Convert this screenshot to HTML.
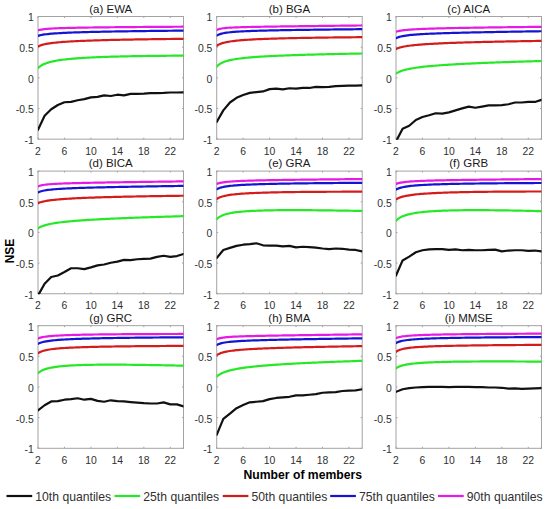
<!DOCTYPE html><html><head><meta charset="utf-8"><style>html,body{margin:0;padding:0;background:#fff;overflow:hidden;}svg{display:block;}text{font-family:"Liberation Sans", sans-serif;} .tk{} .tt{}</style></head><body>
<svg width="550" height="509" viewBox="0 0 550 509">
<rect width="550" height="509" fill="#fff"/>
<defs>
<clipPath id="cp0"><rect x="38.00" y="16.20" width="145.50" height="123.45"/></clipPath>
<clipPath id="cp1"><rect x="216.70" y="16.20" width="145.50" height="123.45"/></clipPath>
<clipPath id="cp2"><rect x="396.00" y="16.20" width="145.50" height="123.45"/></clipPath>
<clipPath id="cp3"><rect x="38.00" y="170.80" width="145.50" height="123.45"/></clipPath>
<clipPath id="cp4"><rect x="216.70" y="170.80" width="145.50" height="123.45"/></clipPath>
<clipPath id="cp5"><rect x="396.00" y="170.80" width="145.50" height="123.45"/></clipPath>
<clipPath id="cp6"><rect x="38.00" y="325.35" width="145.50" height="123.45"/></clipPath>
<clipPath id="cp7"><rect x="216.70" y="325.35" width="145.50" height="123.45"/></clipPath>
<clipPath id="cp8"><rect x="396.00" y="325.35" width="145.50" height="123.45"/></clipPath>
</defs>
<rect x="38.00" y="16.50" width="145.50" height="122.65" fill="none" stroke="#a3a3a3" stroke-width="1"/>
<path d="M38.00,139.15v-1.5M38.00,16.50v1.5M64.45,139.15v-1.5M64.45,16.50v1.5M90.91,139.15v-1.5M90.91,16.50v1.5M117.36,139.15v-1.5M117.36,16.50v1.5M143.82,139.15v-1.5M143.82,16.50v1.5M170.27,139.15v-1.5M170.27,16.50v1.5M38.00,139.15h1.5M183.50,139.15h-1.5M38.00,108.49h1.5M183.50,108.49h-1.5M38.00,77.83h1.5M183.50,77.83h-1.5M38.00,47.16h1.5M183.50,47.16h-1.5M38.00,16.50h1.5M183.50,16.50h-1.5" stroke="#a3a3a3" stroke-width="1" fill="none"/>
<g clip-path="url(#cp0)" fill="none" stroke-width="2.2" stroke-linejoin="round" stroke-linecap="round">
<polyline points="38.00,129.81 44.61,115.73 51.23,109.29 57.84,105.01 64.45,102.25 71.07,101.82 77.68,100.23 84.30,99.13 90.91,97.35 97.52,96.92 104.14,95.33 110.75,96.00 117.36,94.72 123.98,95.33 130.59,93.92 137.20,93.80 143.82,93.61 150.43,93.19 157.05,93.06 163.66,92.94 170.27,92.51 176.89,92.51 183.50,92.39" stroke="#111111"/>
<polyline points="38.00,68.04 39.65,66.60 41.31,65.49 42.96,64.59 44.61,63.85 46.27,63.21 47.92,62.67 49.57,62.19 51.23,61.77 52.88,61.39 54.53,61.05 56.19,60.74 57.84,60.45 59.49,60.19 61.15,59.96 62.80,59.73 64.45,59.53 66.11,59.34 67.76,59.16 69.41,58.99 71.07,58.83 72.72,58.68 74.38,58.54 76.03,58.41 77.68,58.29 79.34,58.17 80.99,58.06 82.64,57.95 84.30,57.85 85.95,57.75 87.60,57.66 89.26,57.57 90.91,57.49 92.56,57.41 94.22,57.33 95.87,57.26 97.52,57.19 99.18,57.12 100.83,57.05 102.48,56.99 104.14,56.93 105.79,56.87 107.44,56.82 109.10,56.77 110.75,56.72 112.40,56.67 114.06,56.62 115.71,56.58 117.36,56.53 119.02,56.49 120.67,56.45 122.32,56.41 123.98,56.37 125.63,56.34 127.28,56.30 128.94,56.27 130.59,56.24 132.24,56.21 133.90,56.18 135.55,56.15 137.20,56.12 138.86,56.09 140.51,56.07 142.16,56.04 143.82,56.02 145.47,55.99 147.12,55.97 148.78,55.95 150.43,55.93 152.09,55.91 153.74,55.89 155.39,55.87 157.05,55.85 158.70,55.84 160.35,55.82 162.01,55.81 163.66,55.79 165.31,55.78 166.97,55.76 168.62,55.75 170.27,55.74 171.93,55.72 173.58,55.71 175.23,55.70 176.89,55.69 178.54,55.68 180.19,55.67 181.85,55.66 183.50,55.65" stroke="#27e827"/>
<polyline points="38.00,46.42 39.65,45.69 41.31,45.12 42.96,44.65 44.61,44.26 46.27,43.92 47.92,43.63 49.57,43.37 51.23,43.14 52.88,42.92 54.53,42.73 56.19,42.56 57.84,42.39 59.49,42.24 61.15,42.10 62.80,41.97 64.45,41.85 66.11,41.74 67.76,41.63 69.41,41.52 71.07,41.43 72.72,41.33 74.38,41.25 76.03,41.16 77.68,41.08 79.34,41.00 80.99,40.93 82.64,40.86 84.30,40.79 85.95,40.73 87.60,40.66 89.26,40.60 90.91,40.55 92.56,40.49 94.22,40.43 95.87,40.38 97.52,40.33 99.18,40.28 100.83,40.23 102.48,40.19 104.14,40.14 105.79,40.10 107.44,40.05 109.10,40.01 110.75,39.97 112.40,39.93 114.06,39.89 115.71,39.86 117.36,39.82 119.02,39.78 120.67,39.75 122.32,39.72 123.98,39.68 125.63,39.65 127.28,39.62 128.94,39.59 130.59,39.56 132.24,39.53 133.90,39.50 135.55,39.47 137.20,39.44 138.86,39.42 140.51,39.39 142.16,39.36 143.82,39.34 145.47,39.31 147.12,39.29 148.78,39.26 150.43,39.24 152.09,39.22 153.74,39.19 155.39,39.17 157.05,39.15 158.70,39.13 160.35,39.11 162.01,39.08 163.66,39.06 165.31,39.04 166.97,39.02 168.62,39.00 170.27,38.98 171.93,38.97 173.58,38.95 175.23,38.93 176.89,38.91 178.54,38.89 180.19,38.87 181.85,38.86 183.50,38.84" stroke="#d41c1c"/>
<polyline points="38.00,35.82 39.65,35.36 41.31,35.00 42.96,34.70 44.61,34.45 46.27,34.23 47.92,34.04 49.57,33.87 51.23,33.72 52.88,33.58 54.53,33.45 56.19,33.34 57.84,33.23 59.49,33.13 61.15,33.04 62.80,32.95 64.45,32.87 66.11,32.79 67.76,32.72 69.41,32.65 71.07,32.58 72.72,32.52 74.38,32.46 76.03,32.40 77.68,32.35 79.34,32.29 80.99,32.24 82.64,32.19 84.30,32.14 85.95,32.10 87.60,32.05 89.26,32.01 90.91,31.97 92.56,31.93 94.22,31.89 95.87,31.85 97.52,31.81 99.18,31.78 100.83,31.74 102.48,31.71 104.14,31.67 105.79,31.64 107.44,31.61 109.10,31.58 110.75,31.55 112.40,31.52 114.06,31.49 115.71,31.46 117.36,31.43 119.02,31.41 120.67,31.38 122.32,31.35 123.98,31.33 125.63,31.30 127.28,31.28 128.94,31.25 130.59,31.23 132.24,31.21 133.90,31.18 135.55,31.16 137.20,31.14 138.86,31.12 140.51,31.09 142.16,31.07 143.82,31.05 145.47,31.03 147.12,31.01 148.78,30.99 150.43,30.97 152.09,30.95 153.74,30.93 155.39,30.91 157.05,30.89 158.70,30.87 160.35,30.86 162.01,30.84 163.66,30.82 165.31,30.80 166.97,30.79 168.62,30.77 170.27,30.75 171.93,30.73 173.58,30.72 175.23,30.70 176.89,30.68 178.54,30.67 180.19,30.65 181.85,30.64 183.50,30.62" stroke="#1414d2"/>
<polyline points="38.00,30.30 39.65,29.87 41.31,29.56 42.96,29.31 44.61,29.11 46.27,28.95 47.92,28.81 49.57,28.69 51.23,28.58 52.88,28.49 54.53,28.40 56.19,28.33 57.84,28.26 59.49,28.19 61.15,28.13 62.80,28.08 64.45,28.03 66.11,27.98 67.76,27.94 69.41,27.90 71.07,27.86 72.72,27.82 74.38,27.78 76.03,27.75 77.68,27.72 79.34,27.69 80.99,27.66 82.64,27.63 84.30,27.60 85.95,27.57 87.60,27.55 89.26,27.52 90.91,27.50 92.56,27.48 94.22,27.46 95.87,27.43 97.52,27.41 99.18,27.39 100.83,27.37 102.48,27.35 104.14,27.33 105.79,27.32 107.44,27.30 109.10,27.28 110.75,27.26 112.40,27.25 114.06,27.23 115.71,27.21 117.36,27.20 119.02,27.18 120.67,27.17 122.32,27.15 123.98,27.14 125.63,27.12 127.28,27.11 128.94,27.09 130.59,27.08 132.24,27.06 133.90,27.05 135.55,27.04 137.20,27.02 138.86,27.01 140.51,27.00 142.16,26.99 143.82,26.97 145.47,26.96 147.12,26.95 148.78,26.94 150.43,26.92 152.09,26.91 153.74,26.90 155.39,26.89 157.05,26.88 158.70,26.87 160.35,26.86 162.01,26.84 163.66,26.83 165.31,26.82 166.97,26.81 168.62,26.80 170.27,26.79 171.93,26.78 173.58,26.77 175.23,26.76 176.89,26.75 178.54,26.74 180.19,26.73 181.85,26.72 183.50,26.71" stroke="#e619e6"/>
</g>
<text transform="translate(33.70,144.05) scale(1.0,1)" class="tk" font-size="10.4" fill="#303030" text-anchor="end">-1</text>
<text transform="translate(33.70,113.39) scale(1.0,1)" class="tk" font-size="10.4" fill="#303030" text-anchor="end">-0.5</text>
<text transform="translate(33.70,82.73) scale(1.0,1)" class="tk" font-size="10.4" fill="#303030" text-anchor="end">0</text>
<text transform="translate(33.70,52.06) scale(1.0,1)" class="tk" font-size="10.4" fill="#303030" text-anchor="end">0.5</text>
<text transform="translate(33.70,21.40) scale(1.0,1)" class="tk" font-size="10.4" fill="#303030" text-anchor="end">1</text>
<text transform="translate(38.00,154.65) scale(1.0,1)" class="tk" font-size="10.4" fill="#303030" text-anchor="middle">2</text>
<text transform="translate(64.45,154.65) scale(1.0,1)" class="tk" font-size="10.4" fill="#303030" text-anchor="middle">6</text>
<text transform="translate(90.91,154.65) scale(1.0,1)" class="tk" font-size="10.4" fill="#303030" text-anchor="middle">10</text>
<text transform="translate(117.36,154.65) scale(1.0,1)" class="tk" font-size="10.4" fill="#303030" text-anchor="middle">14</text>
<text transform="translate(143.82,154.65) scale(1.0,1)" class="tk" font-size="10.4" fill="#303030" text-anchor="middle">18</text>
<text transform="translate(170.27,154.65) scale(1.0,1)" class="tk" font-size="10.4" fill="#303030" text-anchor="middle">22</text>
<text x="110.75" y="12.70" class="tt" font-size="11.5" fill="#1a1a1a" text-anchor="middle">(a) EWA</text>
<rect x="216.70" y="16.50" width="145.50" height="122.65" fill="none" stroke="#a3a3a3" stroke-width="1"/>
<path d="M216.70,139.15v-1.5M216.70,16.50v1.5M243.15,139.15v-1.5M243.15,16.50v1.5M269.61,139.15v-1.5M269.61,16.50v1.5M296.06,139.15v-1.5M296.06,16.50v1.5M322.52,139.15v-1.5M322.52,16.50v1.5M348.97,139.15v-1.5M348.97,16.50v1.5M216.70,139.15h1.5M362.20,139.15h-1.5M216.70,108.49h1.5M362.20,108.49h-1.5M216.70,77.83h1.5M362.20,77.83h-1.5M216.70,47.16h1.5M362.20,47.16h-1.5M216.70,16.50h1.5M362.20,16.50h-1.5" stroke="#a3a3a3" stroke-width="1" fill="none"/>
<g clip-path="url(#cp1)" fill="none" stroke-width="2.2" stroke-linejoin="round" stroke-linecap="round">
<polyline points="216.70,122.00 223.31,110.36 229.93,102.51 236.54,97.85 243.15,94.95 249.77,92.91 256.38,92.04 263.00,91.45 269.61,89.13 276.22,88.55 282.84,89.42 289.45,88.25 296.06,88.55 302.68,87.96 309.29,87.96 315.90,86.80 322.52,87.09 329.13,86.80 335.75,86.22 342.36,85.93 348.97,85.64 355.59,85.64 362.20,85.35" stroke="#111111"/>
<polyline points="216.70,66.58 218.35,65.01 220.01,63.84 221.66,62.92 223.31,62.18 224.97,61.56 226.62,61.04 228.27,60.58 229.93,60.18 231.58,59.83 233.23,59.51 234.89,59.22 236.54,58.96 238.19,58.72 239.85,58.50 241.50,58.30 243.15,58.11 244.81,57.93 246.46,57.77 248.11,57.61 249.77,57.46 251.42,57.32 253.07,57.19 254.73,57.07 256.38,56.95 258.04,56.83 259.69,56.72 261.34,56.62 263.00,56.52 264.65,56.42 266.30,56.33 267.96,56.24 269.61,56.16 271.26,56.07 272.92,55.99 274.57,55.91 276.22,55.84 277.88,55.77 279.53,55.69 281.18,55.63 282.84,55.56 284.49,55.49 286.14,55.43 287.80,55.37 289.45,55.31 291.10,55.25 292.76,55.19 294.41,55.13 296.06,55.08 297.72,55.03 299.37,54.97 301.02,54.92 302.68,54.87 304.33,54.82 305.98,54.77 307.64,54.72 309.29,54.68 310.94,54.63 312.60,54.58 314.25,54.54 315.90,54.50 317.56,54.45 319.21,54.41 320.86,54.37 322.52,54.33 324.17,54.29 325.82,54.25 327.48,54.21 329.13,54.17 330.79,54.13 332.44,54.09 334.09,54.05 335.75,54.02 337.40,53.98 339.05,53.94 340.71,53.91 342.36,53.87 344.01,53.84 345.67,53.80 347.32,53.77 348.97,53.74 350.63,53.70 352.28,53.67 353.93,53.64 355.59,53.60 357.24,53.57 358.89,53.54 360.55,53.51 362.20,53.48" stroke="#27e827"/>
<polyline points="216.70,45.78 218.35,44.77 220.01,44.00 221.66,43.39 223.31,42.89 224.97,42.47 226.62,42.11 228.27,41.80 229.93,41.53 231.58,41.28 233.23,41.06 234.89,40.86 236.54,40.68 238.19,40.51 239.85,40.36 241.50,40.21 243.15,40.08 244.81,39.96 246.46,39.84 248.11,39.73 249.77,39.63 251.42,39.53 253.07,39.44 254.73,39.36 256.38,39.27 258.04,39.20 259.69,39.12 261.34,39.05 263.00,38.98 264.65,38.92 266.30,38.86 267.96,38.80 269.61,38.74 271.26,38.68 272.92,38.63 274.57,38.58 276.22,38.53 277.88,38.48 279.53,38.44 281.18,38.39 282.84,38.35 284.49,38.31 286.14,38.27 287.80,38.23 289.45,38.19 291.10,38.15 292.76,38.12 294.41,38.08 296.06,38.05 297.72,38.02 299.37,37.98 301.02,37.95 302.68,37.92 304.33,37.89 305.98,37.86 307.64,37.83 309.29,37.81 310.94,37.78 312.60,37.75 314.25,37.73 315.90,37.70 317.56,37.68 319.21,37.65 320.86,37.63 322.52,37.61 324.17,37.58 325.82,37.56 327.48,37.54 329.13,37.52 330.79,37.50 332.44,37.48 334.09,37.46 335.75,37.44 337.40,37.42 339.05,37.40 340.71,37.38 342.36,37.36 344.01,37.35 345.67,37.33 347.32,37.31 348.97,37.29 350.63,37.28 352.28,37.26 353.93,37.25 355.59,37.23 357.24,37.21 358.89,37.20 360.55,37.18 362.20,37.17" stroke="#d41c1c"/>
<polyline points="216.70,35.60 218.35,34.73 220.01,34.10 221.66,33.63 223.31,33.25 224.97,32.95 226.62,32.69 228.27,32.47 229.93,32.28 231.58,32.11 233.23,31.96 234.89,31.83 236.54,31.71 238.19,31.60 239.85,31.50 241.50,31.41 243.15,31.32 244.81,31.24 246.46,31.17 248.11,31.10 249.77,31.04 251.42,30.97 253.07,30.91 254.73,30.86 256.38,30.81 258.04,30.76 259.69,30.71 261.34,30.66 263.00,30.62 264.65,30.57 266.30,30.53 267.96,30.49 269.61,30.46 271.26,30.42 272.92,30.38 274.57,30.35 276.22,30.31 277.88,30.28 279.53,30.25 281.18,30.22 282.84,30.19 284.49,30.16 286.14,30.13 287.80,30.10 289.45,30.07 291.10,30.04 292.76,30.02 294.41,29.99 296.06,29.97 297.72,29.94 299.37,29.92 301.02,29.89 302.68,29.87 304.33,29.84 305.98,29.82 307.64,29.80 309.29,29.78 310.94,29.75 312.60,29.73 314.25,29.71 315.90,29.69 317.56,29.67 319.21,29.65 320.86,29.63 322.52,29.61 324.17,29.59 325.82,29.57 327.48,29.55 329.13,29.53 330.79,29.51 332.44,29.49 334.09,29.47 335.75,29.45 337.40,29.43 339.05,29.42 340.71,29.40 342.36,29.38 344.01,29.36 345.67,29.34 347.32,29.33 348.97,29.31 350.63,29.29 352.28,29.28 353.93,29.26 355.59,29.24 357.24,29.22 358.89,29.21 360.55,29.19 362.20,29.18" stroke="#1414d2"/>
<polyline points="216.70,30.04 218.35,29.30 220.01,28.82 221.66,28.49 223.31,28.24 224.97,28.05 226.62,27.89 228.27,27.77 229.93,27.66 231.58,27.57 233.23,27.49 234.89,27.42 236.54,27.35 238.19,27.29 239.85,27.24 241.50,27.19 243.15,27.14 244.81,27.10 246.46,27.06 248.11,27.02 249.77,26.99 251.42,26.95 253.07,26.92 254.73,26.89 256.38,26.85 258.04,26.82 259.69,26.79 261.34,26.77 263.00,26.74 264.65,26.71 266.30,26.68 267.96,26.66 269.61,26.63 271.26,26.61 272.92,26.58 274.57,26.56 276.22,26.53 277.88,26.51 279.53,26.49 281.18,26.46 282.84,26.44 284.49,26.42 286.14,26.39 287.80,26.37 289.45,26.35 291.10,26.33 292.76,26.31 294.41,26.28 296.06,26.26 297.72,26.24 299.37,26.22 301.02,26.20 302.68,26.18 304.33,26.16 305.98,26.14 307.64,26.11 309.29,26.09 310.94,26.07 312.60,26.05 314.25,26.03 315.90,26.01 317.56,25.99 319.21,25.97 320.86,25.95 322.52,25.93 324.17,25.91 325.82,25.89 327.48,25.87 329.13,25.85 330.79,25.83 332.44,25.81 334.09,25.79 335.75,25.77 337.40,25.75 339.05,25.73 340.71,25.71 342.36,25.69 344.01,25.67 345.67,25.65 347.32,25.63 348.97,25.61 350.63,25.60 352.28,25.58 353.93,25.56 355.59,25.54 357.24,25.52 358.89,25.50 360.55,25.48 362.20,25.46" stroke="#e619e6"/>
</g>
<text transform="translate(212.40,144.05) scale(1.0,1)" class="tk" font-size="10.4" fill="#303030" text-anchor="end">-1</text>
<text transform="translate(212.40,113.39) scale(1.0,1)" class="tk" font-size="10.4" fill="#303030" text-anchor="end">-0.5</text>
<text transform="translate(212.40,82.73) scale(1.0,1)" class="tk" font-size="10.4" fill="#303030" text-anchor="end">0</text>
<text transform="translate(212.40,52.06) scale(1.0,1)" class="tk" font-size="10.4" fill="#303030" text-anchor="end">0.5</text>
<text transform="translate(212.40,21.40) scale(1.0,1)" class="tk" font-size="10.4" fill="#303030" text-anchor="end">1</text>
<text transform="translate(216.70,154.65) scale(1.0,1)" class="tk" font-size="10.4" fill="#303030" text-anchor="middle">2</text>
<text transform="translate(243.15,154.65) scale(1.0,1)" class="tk" font-size="10.4" fill="#303030" text-anchor="middle">6</text>
<text transform="translate(269.61,154.65) scale(1.0,1)" class="tk" font-size="10.4" fill="#303030" text-anchor="middle">10</text>
<text transform="translate(296.06,154.65) scale(1.0,1)" class="tk" font-size="10.4" fill="#303030" text-anchor="middle">14</text>
<text transform="translate(322.52,154.65) scale(1.0,1)" class="tk" font-size="10.4" fill="#303030" text-anchor="middle">18</text>
<text transform="translate(348.97,154.65) scale(1.0,1)" class="tk" font-size="10.4" fill="#303030" text-anchor="middle">22</text>
<text x="289.45" y="12.70" class="tt" font-size="11.5" fill="#1a1a1a" text-anchor="middle">(b) BGA</text>
<rect x="396.00" y="16.50" width="145.50" height="122.65" fill="none" stroke="#a3a3a3" stroke-width="1"/>
<path d="M396.00,139.15v-1.5M396.00,16.50v1.5M422.45,139.15v-1.5M422.45,16.50v1.5M448.91,139.15v-1.5M448.91,16.50v1.5M475.36,139.15v-1.5M475.36,16.50v1.5M501.82,139.15v-1.5M501.82,16.50v1.5M528.27,139.15v-1.5M528.27,16.50v1.5M396.00,139.15h1.5M541.50,139.15h-1.5M396.00,108.49h1.5M541.50,108.49h-1.5M396.00,77.83h1.5M541.50,77.83h-1.5M396.00,47.16h1.5M541.50,47.16h-1.5M396.00,16.50h1.5M541.50,16.50h-1.5" stroke="#a3a3a3" stroke-width="1" fill="none"/>
<g clip-path="url(#cp2)" fill="none" stroke-width="2.2" stroke-linejoin="round" stroke-linecap="round">
<polyline points="396.00,141.49 402.61,128.69 409.23,125.78 415.84,119.96 422.45,117.05 429.07,115.31 435.68,113.27 442.30,113.56 448.91,112.40 455.52,110.36 462.14,108.33 468.75,106.58 475.36,107.75 481.98,106.58 488.59,105.42 495.20,105.42 501.82,105.13 508.43,104.25 515.05,102.51 521.66,102.51 528.27,101.93 534.89,101.93 541.50,99.89" stroke="#111111"/>
<polyline points="396.00,73.68 397.65,72.63 399.31,71.81 400.96,71.13 402.61,70.56 404.27,70.06 405.92,69.62 407.57,69.23 409.23,68.88 410.88,68.56 412.53,68.27 414.19,68.00 415.84,67.75 417.49,67.51 419.15,67.29 420.80,67.09 422.45,66.89 424.11,66.71 425.76,66.53 427.41,66.36 429.07,66.20 430.72,66.05 432.38,65.90 434.03,65.76 435.68,65.63 437.34,65.49 438.99,65.37 440.64,65.25 442.30,65.13 443.95,65.01 445.60,64.90 447.26,64.79 448.91,64.69 450.56,64.59 452.22,64.49 453.87,64.39 455.52,64.29 457.18,64.20 458.83,64.11 460.48,64.02 462.14,63.94 463.79,63.85 465.44,63.77 467.10,63.69 468.75,63.61 470.40,63.53 472.06,63.45 473.71,63.38 475.36,63.30 477.02,63.23 478.67,63.16 480.32,63.09 481.98,63.02 483.63,62.95 485.28,62.88 486.94,62.81 488.59,62.75 490.24,62.68 491.90,62.62 493.55,62.56 495.20,62.50 496.86,62.43 498.51,62.37 500.16,62.31 501.82,62.25 503.47,62.20 505.12,62.14 506.78,62.08 508.43,62.03 510.09,61.97 511.74,61.91 513.39,61.86 515.05,61.81 516.70,61.75 518.35,61.70 520.01,61.65 521.66,61.59 523.31,61.54 524.97,61.49 526.62,61.44 528.27,61.39 529.93,61.34 531.58,61.29 533.23,61.24 534.89,61.19 536.54,61.15 538.19,61.10 539.85,61.05 541.50,61.00" stroke="#27e827"/>
<polyline points="396.00,48.95 397.65,48.24 399.31,47.68 400.96,47.23 402.61,46.84 404.27,46.51 405.92,46.22 407.57,45.96 409.23,45.73 410.88,45.52 412.53,45.32 414.19,45.14 415.84,44.98 417.49,44.83 419.15,44.68 420.80,44.55 422.45,44.42 424.11,44.30 425.76,44.19 427.41,44.08 429.07,43.98 430.72,43.88 432.38,43.79 434.03,43.70 435.68,43.61 437.34,43.53 438.99,43.45 440.64,43.37 442.30,43.30 443.95,43.22 445.60,43.15 447.26,43.09 448.91,43.02 450.56,42.96 452.22,42.90 453.87,42.84 455.52,42.78 457.18,42.72 458.83,42.67 460.48,42.61 462.14,42.56 463.79,42.51 465.44,42.46 467.10,42.41 468.75,42.36 470.40,42.32 472.06,42.27 473.71,42.23 475.36,42.18 477.02,42.14 478.67,42.10 480.32,42.05 481.98,42.01 483.63,41.97 485.28,41.93 486.94,41.89 488.59,41.86 490.24,41.82 491.90,41.78 493.55,41.75 495.20,41.71 496.86,41.68 498.51,41.64 500.16,41.61 501.82,41.57 503.47,41.54 505.12,41.51 506.78,41.47 508.43,41.44 510.09,41.41 511.74,41.38 513.39,41.35 515.05,41.32 516.70,41.29 518.35,41.26 520.01,41.23 521.66,41.20 523.31,41.17 524.97,41.14 526.62,41.12 528.27,41.09 529.93,41.06 531.58,41.03 533.23,41.01 534.89,40.98 536.54,40.95 538.19,40.93 539.85,40.90 541.50,40.88" stroke="#d41c1c"/>
<polyline points="396.00,38.20 397.65,37.44 399.31,36.88 400.96,36.45 402.61,36.09 404.27,35.80 405.92,35.54 407.57,35.32 409.23,35.13 410.88,34.96 412.53,34.80 414.19,34.66 415.84,34.53 417.49,34.41 419.15,34.30 420.80,34.20 422.45,34.10 424.11,34.01 425.76,33.93 427.41,33.85 429.07,33.77 430.72,33.70 432.38,33.63 434.03,33.56 435.68,33.49 437.34,33.43 438.99,33.37 440.64,33.31 442.30,33.26 443.95,33.21 445.60,33.15 447.26,33.10 448.91,33.05 450.56,33.00 452.22,32.96 453.87,32.91 455.52,32.87 457.18,32.82 458.83,32.78 460.48,32.74 462.14,32.70 463.79,32.66 465.44,32.62 467.10,32.58 468.75,32.54 470.40,32.51 472.06,32.47 473.71,32.43 475.36,32.40 477.02,32.36 478.67,32.33 480.32,32.29 481.98,32.26 483.63,32.23 485.28,32.19 486.94,32.16 488.59,32.13 490.24,32.10 491.90,32.07 493.55,32.03 495.20,32.00 496.86,31.97 498.51,31.94 500.16,31.91 501.82,31.88 503.47,31.85 505.12,31.83 506.78,31.80 508.43,31.77 510.09,31.74 511.74,31.71 513.39,31.68 515.05,31.66 516.70,31.63 518.35,31.60 520.01,31.57 521.66,31.55 523.31,31.52 524.97,31.49 526.62,31.47 528.27,31.44 529.93,31.41 531.58,31.39 533.23,31.36 534.89,31.34 536.54,31.31 538.19,31.29 539.85,31.26 541.50,31.24" stroke="#1414d2"/>
<polyline points="396.00,31.79 397.65,31.30 399.31,30.92 400.96,30.62 402.61,30.38 404.27,30.17 405.92,29.99 407.57,29.84 409.23,29.70 410.88,29.57 412.53,29.46 414.19,29.36 415.84,29.26 417.49,29.18 419.15,29.10 420.80,29.02 422.45,28.95 424.11,28.88 425.76,28.82 427.41,28.76 429.07,28.70 430.72,28.64 432.38,28.59 434.03,28.54 435.68,28.49 437.34,28.45 438.99,28.40 440.64,28.36 442.30,28.32 443.95,28.28 445.60,28.24 447.26,28.20 448.91,28.16 450.56,28.13 452.22,28.09 453.87,28.06 455.52,28.02 457.18,27.99 458.83,27.96 460.48,27.93 462.14,27.90 463.79,27.87 465.44,27.84 467.10,27.81 468.75,27.78 470.40,27.75 472.06,27.73 473.71,27.70 475.36,27.67 477.02,27.65 478.67,27.62 480.32,27.59 481.98,27.57 483.63,27.55 485.28,27.52 486.94,27.50 488.59,27.47 490.24,27.45 491.90,27.43 493.55,27.40 495.20,27.38 496.86,27.36 498.51,27.34 500.16,27.31 501.82,27.29 503.47,27.27 505.12,27.25 506.78,27.23 508.43,27.21 510.09,27.19 511.74,27.17 513.39,27.15 515.05,27.13 516.70,27.11 518.35,27.09 520.01,27.07 521.66,27.05 523.31,27.03 524.97,27.01 526.62,26.99 528.27,26.97 529.93,26.95 531.58,26.93 533.23,26.91 534.89,26.90 536.54,26.88 538.19,26.86 539.85,26.84 541.50,26.82" stroke="#e619e6"/>
</g>
<text transform="translate(391.70,144.05) scale(1.0,1)" class="tk" font-size="10.4" fill="#303030" text-anchor="end">-1</text>
<text transform="translate(391.70,113.39) scale(1.0,1)" class="tk" font-size="10.4" fill="#303030" text-anchor="end">-0.5</text>
<text transform="translate(391.70,82.73) scale(1.0,1)" class="tk" font-size="10.4" fill="#303030" text-anchor="end">0</text>
<text transform="translate(391.70,52.06) scale(1.0,1)" class="tk" font-size="10.4" fill="#303030" text-anchor="end">0.5</text>
<text transform="translate(391.70,21.40) scale(1.0,1)" class="tk" font-size="10.4" fill="#303030" text-anchor="end">1</text>
<text transform="translate(396.00,154.65) scale(1.0,1)" class="tk" font-size="10.4" fill="#303030" text-anchor="middle">2</text>
<text transform="translate(422.45,154.65) scale(1.0,1)" class="tk" font-size="10.4" fill="#303030" text-anchor="middle">6</text>
<text transform="translate(448.91,154.65) scale(1.0,1)" class="tk" font-size="10.4" fill="#303030" text-anchor="middle">10</text>
<text transform="translate(475.36,154.65) scale(1.0,1)" class="tk" font-size="10.4" fill="#303030" text-anchor="middle">14</text>
<text transform="translate(501.82,154.65) scale(1.0,1)" class="tk" font-size="10.4" fill="#303030" text-anchor="middle">18</text>
<text transform="translate(528.27,154.65) scale(1.0,1)" class="tk" font-size="10.4" fill="#303030" text-anchor="middle">22</text>
<text x="468.75" y="12.70" class="tt" font-size="11.5" fill="#1a1a1a" text-anchor="middle">(c) AICA</text>
<rect x="38.00" y="171.10" width="145.50" height="122.65" fill="none" stroke="#a3a3a3" stroke-width="1"/>
<path d="M38.00,293.75v-1.5M38.00,171.10v1.5M64.45,293.75v-1.5M64.45,171.10v1.5M90.91,293.75v-1.5M90.91,171.10v1.5M117.36,293.75v-1.5M117.36,171.10v1.5M143.82,293.75v-1.5M143.82,171.10v1.5M170.27,293.75v-1.5M170.27,171.10v1.5M38.00,293.75h1.5M183.50,293.75h-1.5M38.00,263.09h1.5M183.50,263.09h-1.5M38.00,232.43h1.5M183.50,232.43h-1.5M38.00,201.76h1.5M183.50,201.76h-1.5M38.00,171.10h1.5M183.50,171.10h-1.5" stroke="#a3a3a3" stroke-width="1" fill="none"/>
<g clip-path="url(#cp3)" fill="none" stroke-width="2.2" stroke-linejoin="round" stroke-linecap="round">
<polyline points="38.00,295.62 44.61,283.69 51.23,277.00 57.84,275.55 64.45,272.05 71.07,268.27 77.68,268.27 84.30,269.15 90.91,267.40 97.52,265.36 104.14,264.49 110.75,262.75 117.36,261.58 123.98,259.84 130.59,260.13 137.20,259.25 143.82,258.96 150.43,258.67 157.05,256.93 163.66,255.76 170.27,256.93 176.89,256.05 183.50,254.02" stroke="#111111"/>
<polyline points="38.00,228.34 39.65,227.35 41.31,226.56 42.96,225.92 44.61,225.37 46.27,224.90 47.92,224.49 49.57,224.12 51.23,223.78 52.88,223.48 54.53,223.20 56.19,222.94 57.84,222.70 59.49,222.48 61.15,222.27 62.80,222.07 64.45,221.88 66.11,221.71 67.76,221.54 69.41,221.38 71.07,221.22 72.72,221.08 74.38,220.93 76.03,220.80 77.68,220.67 79.34,220.54 80.99,220.42 82.64,220.30 84.30,220.19 85.95,220.08 87.60,219.97 89.26,219.87 90.91,219.77 92.56,219.67 94.22,219.57 95.87,219.48 97.52,219.38 99.18,219.29 100.83,219.21 102.48,219.12 104.14,219.04 105.79,218.96 107.44,218.87 109.10,218.80 110.75,218.72 112.40,218.64 114.06,218.57 115.71,218.49 117.36,218.42 119.02,218.35 120.67,218.28 122.32,218.21 123.98,218.14 125.63,218.08 127.28,218.01 128.94,217.95 130.59,217.88 132.24,217.82 133.90,217.76 135.55,217.69 137.20,217.63 138.86,217.57 140.51,217.51 142.16,217.46 143.82,217.40 145.47,217.34 147.12,217.28 148.78,217.23 150.43,217.17 152.09,217.12 153.74,217.06 155.39,217.01 157.05,216.96 158.70,216.90 160.35,216.85 162.01,216.80 163.66,216.75 165.31,216.70 166.97,216.65 168.62,216.60 170.27,216.55 171.93,216.50 173.58,216.45 175.23,216.40 176.89,216.35 178.54,216.31 180.19,216.26 181.85,216.21 183.50,216.17" stroke="#27e827"/>
<polyline points="38.00,203.25 39.65,202.57 41.31,202.04 42.96,201.60 44.61,201.24 46.27,200.92 47.92,200.65 49.57,200.40 51.23,200.18 52.88,199.98 54.53,199.80 56.19,199.63 57.84,199.47 59.49,199.33 61.15,199.19 62.80,199.07 64.45,198.95 66.11,198.83 67.76,198.73 69.41,198.63 71.07,198.53 72.72,198.44 74.38,198.35 76.03,198.27 77.68,198.19 79.34,198.11 80.99,198.04 82.64,197.97 84.30,197.90 85.95,197.83 87.60,197.77 89.26,197.70 90.91,197.64 92.56,197.59 94.22,197.53 95.87,197.47 97.52,197.42 99.18,197.37 100.83,197.32 102.48,197.27 104.14,197.22 105.79,197.18 107.44,197.13 109.10,197.08 110.75,197.04 112.40,197.00 114.06,196.96 115.71,196.92 117.36,196.88 119.02,196.84 120.67,196.80 122.32,196.76 123.98,196.72 125.63,196.69 127.28,196.65 128.94,196.62 130.59,196.58 132.24,196.55 133.90,196.52 135.55,196.49 137.20,196.45 138.86,196.42 140.51,196.39 142.16,196.36 143.82,196.33 145.47,196.30 147.12,196.27 148.78,196.24 150.43,196.21 152.09,196.19 153.74,196.16 155.39,196.13 157.05,196.11 158.70,196.08 160.35,196.05 162.01,196.03 163.66,196.00 165.31,195.98 166.97,195.95 168.62,195.93 170.27,195.90 171.93,195.88 173.58,195.86 175.23,195.83 176.89,195.81 178.54,195.79 180.19,195.77 181.85,195.74 183.50,195.72" stroke="#d41c1c"/>
<polyline points="38.00,192.43 39.65,191.72 41.31,191.20 42.96,190.79 44.61,190.46 46.27,190.18 47.92,189.94 49.57,189.74 51.23,189.56 52.88,189.39 54.53,189.25 56.19,189.12 57.84,188.99 59.49,188.88 61.15,188.78 62.80,188.68 64.45,188.59 66.11,188.51 67.76,188.43 69.41,188.35 71.07,188.28 72.72,188.21 74.38,188.14 76.03,188.08 77.68,188.02 79.34,187.96 80.99,187.91 82.64,187.85 84.30,187.80 85.95,187.75 87.60,187.70 89.26,187.65 90.91,187.61 92.56,187.56 94.22,187.52 95.87,187.48 97.52,187.43 99.18,187.39 100.83,187.35 102.48,187.31 104.14,187.28 105.79,187.24 107.44,187.20 109.10,187.16 110.75,187.13 112.40,187.09 114.06,187.06 115.71,187.02 117.36,186.99 119.02,186.96 120.67,186.93 122.32,186.89 123.98,186.86 125.63,186.83 127.28,186.80 128.94,186.77 130.59,186.74 132.24,186.71 133.90,186.68 135.55,186.65 137.20,186.62 138.86,186.59 140.51,186.56 142.16,186.54 143.82,186.51 145.47,186.48 147.12,186.45 148.78,186.43 150.43,186.40 152.09,186.37 153.74,186.35 155.39,186.32 157.05,186.29 158.70,186.27 160.35,186.24 162.01,186.22 163.66,186.19 165.31,186.17 166.97,186.14 168.62,186.12 170.27,186.09 171.93,186.07 173.58,186.04 175.23,186.02 176.89,185.99 178.54,185.97 180.19,185.94 181.85,185.92 183.50,185.90" stroke="#1414d2"/>
<polyline points="38.00,186.41 39.65,185.79 41.31,185.36 42.96,185.03 44.61,184.78 46.27,184.57 47.92,184.39 49.57,184.25 51.23,184.12 52.88,184.00 54.53,183.90 56.19,183.81 57.84,183.73 59.49,183.65 61.15,183.58 62.80,183.52 64.45,183.46 66.11,183.40 67.76,183.34 69.41,183.29 71.07,183.24 72.72,183.20 74.38,183.15 76.03,183.11 77.68,183.07 79.34,183.03 80.99,182.99 82.64,182.95 84.30,182.91 85.95,182.88 87.60,182.84 89.26,182.81 90.91,182.77 92.56,182.74 94.22,182.71 95.87,182.68 97.52,182.65 99.18,182.62 100.83,182.59 102.48,182.56 104.14,182.53 105.79,182.50 107.44,182.47 109.10,182.44 110.75,182.42 112.40,182.39 114.06,182.36 115.71,182.33 117.36,182.31 119.02,182.28 120.67,182.26 122.32,182.23 123.98,182.21 125.63,182.18 127.28,182.15 128.94,182.13 130.59,182.11 132.24,182.08 133.90,182.06 135.55,182.03 137.20,182.01 138.86,181.98 140.51,181.96 142.16,181.94 143.82,181.91 145.47,181.89 147.12,181.87 148.78,181.84 150.43,181.82 152.09,181.80 153.74,181.77 155.39,181.75 157.05,181.73 158.70,181.71 160.35,181.68 162.01,181.66 163.66,181.64 165.31,181.62 166.97,181.59 168.62,181.57 170.27,181.55 171.93,181.53 173.58,181.51 175.23,181.48 176.89,181.46 178.54,181.44 180.19,181.42 181.85,181.40 183.50,181.38" stroke="#e619e6"/>
</g>
<text transform="translate(33.70,298.65) scale(1.0,1)" class="tk" font-size="10.4" fill="#303030" text-anchor="end">-1</text>
<text transform="translate(33.70,267.99) scale(1.0,1)" class="tk" font-size="10.4" fill="#303030" text-anchor="end">-0.5</text>
<text transform="translate(33.70,237.33) scale(1.0,1)" class="tk" font-size="10.4" fill="#303030" text-anchor="end">0</text>
<text transform="translate(33.70,206.66) scale(1.0,1)" class="tk" font-size="10.4" fill="#303030" text-anchor="end">0.5</text>
<text transform="translate(33.70,176.00) scale(1.0,1)" class="tk" font-size="10.4" fill="#303030" text-anchor="end">1</text>
<text transform="translate(38.00,309.25) scale(1.0,1)" class="tk" font-size="10.4" fill="#303030" text-anchor="middle">2</text>
<text transform="translate(64.45,309.25) scale(1.0,1)" class="tk" font-size="10.4" fill="#303030" text-anchor="middle">6</text>
<text transform="translate(90.91,309.25) scale(1.0,1)" class="tk" font-size="10.4" fill="#303030" text-anchor="middle">10</text>
<text transform="translate(117.36,309.25) scale(1.0,1)" class="tk" font-size="10.4" fill="#303030" text-anchor="middle">14</text>
<text transform="translate(143.82,309.25) scale(1.0,1)" class="tk" font-size="10.4" fill="#303030" text-anchor="middle">18</text>
<text transform="translate(170.27,309.25) scale(1.0,1)" class="tk" font-size="10.4" fill="#303030" text-anchor="middle">22</text>
<text x="110.75" y="167.30" class="tt" font-size="11.5" fill="#1a1a1a" text-anchor="middle">(d) BICA</text>
<rect x="216.70" y="171.10" width="145.50" height="122.65" fill="none" stroke="#a3a3a3" stroke-width="1"/>
<path d="M216.70,293.75v-1.5M216.70,171.10v1.5M243.15,293.75v-1.5M243.15,171.10v1.5M269.61,293.75v-1.5M269.61,171.10v1.5M296.06,293.75v-1.5M296.06,171.10v1.5M322.52,293.75v-1.5M322.52,171.10v1.5M348.97,293.75v-1.5M348.97,171.10v1.5M216.70,293.75h1.5M362.20,293.75h-1.5M216.70,263.09h1.5M362.20,263.09h-1.5M216.70,232.43h1.5M362.20,232.43h-1.5M216.70,201.76h1.5M362.20,201.76h-1.5M216.70,171.10h1.5M362.20,171.10h-1.5" stroke="#a3a3a3" stroke-width="1" fill="none"/>
<g clip-path="url(#cp4)" fill="none" stroke-width="2.2" stroke-linejoin="round" stroke-linecap="round">
<polyline points="216.70,258.09 223.31,249.95 229.93,247.91 236.54,245.87 243.15,244.71 249.77,244.13 256.38,243.25 263.00,245.29 269.61,245.58 276.22,245.58 282.84,246.45 289.45,245.87 296.06,247.33 302.68,246.75 309.29,247.04 315.90,247.62 322.52,248.49 329.13,249.07 335.75,248.49 342.36,248.78 348.97,249.65 355.59,249.95 362.20,251.40" stroke="#111111"/>
<polyline points="216.70,219.13 218.35,217.69 220.01,216.61 221.66,215.77 223.31,215.08 224.97,214.51 226.62,214.03 228.27,213.61 229.93,213.26 231.58,212.94 233.23,212.66 234.89,212.42 236.54,212.20 238.19,212.00 239.85,211.82 241.50,211.66 243.15,211.51 244.81,211.38 246.46,211.26 248.11,211.15 249.77,211.05 251.42,210.96 253.07,210.87 254.73,210.80 256.38,210.73 258.04,210.66 259.69,210.60 261.34,210.55 263.00,210.50 264.65,210.45 266.30,210.41 267.96,210.37 269.61,210.34 271.26,210.31 272.92,210.28 274.57,210.26 276.22,210.24 277.88,210.22 279.53,210.20 281.18,210.19 282.84,210.18 284.49,210.17 286.14,210.16 287.80,210.15 289.45,210.15 291.10,210.15 292.76,210.15 294.41,210.15 296.06,210.15 297.72,210.15 299.37,210.16 301.02,210.16 302.68,210.17 304.33,210.18 305.98,210.19 307.64,210.20 309.29,210.21 310.94,210.22 312.60,210.23 314.25,210.25 315.90,210.26 317.56,210.28 319.21,210.30 320.86,210.32 322.52,210.33 324.17,210.35 325.82,210.37 327.48,210.39 329.13,210.42 330.79,210.44 332.44,210.46 334.09,210.48 335.75,210.51 337.40,210.53 339.05,210.56 340.71,210.58 342.36,210.61 344.01,210.63 345.67,210.66 347.32,210.69 348.97,210.72 350.63,210.75 352.28,210.77 353.93,210.80 355.59,210.83 357.24,210.86 358.89,210.89 360.55,210.92 362.20,210.96" stroke="#27e827"/>
<polyline points="216.70,198.99 218.35,198.02 220.01,197.28 221.66,196.70 223.31,196.22 224.97,195.82 226.62,195.48 228.27,195.19 229.93,194.93 231.58,194.70 233.23,194.50 234.89,194.31 236.54,194.14 238.19,193.99 239.85,193.85 241.50,193.72 243.15,193.61 244.81,193.50 246.46,193.39 248.11,193.30 249.77,193.21 251.42,193.13 253.07,193.05 254.73,192.98 256.38,192.91 258.04,192.85 259.69,192.79 261.34,192.73 263.00,192.68 264.65,192.62 266.30,192.58 267.96,192.53 269.61,192.49 271.26,192.45 272.92,192.41 274.57,192.37 276.22,192.33 277.88,192.30 279.53,192.27 281.18,192.24 282.84,192.21 284.49,192.18 286.14,192.15 287.80,192.13 289.45,192.10 291.10,192.08 292.76,192.06 294.41,192.04 296.06,192.02 297.72,192.00 299.37,191.98 301.02,191.96 302.68,191.94 304.33,191.93 305.98,191.91 307.64,191.90 309.29,191.89 310.94,191.87 312.60,191.86 314.25,191.85 315.90,191.84 317.56,191.83 319.21,191.82 320.86,191.81 322.52,191.80 324.17,191.79 325.82,191.78 327.48,191.77 329.13,191.77 330.79,191.76 332.44,191.75 334.09,191.75 335.75,191.74 337.40,191.74 339.05,191.73 340.71,191.73 342.36,191.72 344.01,191.72 345.67,191.71 347.32,191.71 348.97,191.71 350.63,191.71 352.28,191.70 353.93,191.70 355.59,191.70 357.24,191.70 358.89,191.70 360.55,191.70 362.20,191.70" stroke="#d41c1c"/>
<polyline points="216.70,189.22 218.35,188.41 220.01,187.80 221.66,187.33 223.31,186.95 224.97,186.63 226.62,186.36 228.27,186.13 229.93,185.93 231.58,185.75 233.23,185.58 234.89,185.44 236.54,185.31 238.19,185.19 239.85,185.08 241.50,184.97 243.15,184.88 244.81,184.79 246.46,184.71 248.11,184.63 249.77,184.56 251.42,184.49 253.07,184.43 254.73,184.37 256.38,184.31 258.04,184.26 259.69,184.20 261.34,184.15 263.00,184.11 264.65,184.06 266.30,184.02 267.96,183.98 269.61,183.94 271.26,183.90 272.92,183.86 274.57,183.82 276.22,183.79 277.88,183.75 279.53,183.72 281.18,183.69 282.84,183.66 284.49,183.63 286.14,183.60 287.80,183.57 289.45,183.55 291.10,183.52 292.76,183.50 294.41,183.47 296.06,183.45 297.72,183.42 299.37,183.40 301.02,183.38 302.68,183.36 304.33,183.33 305.98,183.31 307.64,183.29 309.29,183.27 310.94,183.25 312.60,183.23 314.25,183.22 315.90,183.20 317.56,183.18 319.21,183.16 320.86,183.14 322.52,183.13 324.17,183.11 325.82,183.09 327.48,183.08 329.13,183.06 330.79,183.05 332.44,183.03 334.09,183.02 335.75,183.00 337.40,182.99 339.05,182.97 340.71,182.96 342.36,182.94 344.01,182.93 345.67,182.92 347.32,182.90 348.97,182.89 350.63,182.88 352.28,182.87 353.93,182.85 355.59,182.84 357.24,182.83 358.89,182.82 360.55,182.80 362.20,182.79" stroke="#1414d2"/>
<polyline points="216.70,183.89 218.35,183.31 220.01,182.89 221.66,182.56 223.31,182.30 224.97,182.08 226.62,181.90 228.27,181.74 229.93,181.60 231.58,181.48 233.23,181.37 234.89,181.27 236.54,181.18 238.19,181.10 239.85,181.02 241.50,180.95 243.15,180.88 244.81,180.82 246.46,180.76 248.11,180.71 249.77,180.66 251.42,180.61 253.07,180.56 254.73,180.52 256.38,180.47 258.04,180.43 259.69,180.39 261.34,180.36 263.00,180.32 264.65,180.29 266.30,180.25 267.96,180.22 269.61,180.19 271.26,180.16 272.92,180.13 274.57,180.10 276.22,180.07 277.88,180.04 279.53,180.01 281.18,179.99 282.84,179.96 284.49,179.94 286.14,179.91 287.80,179.89 289.45,179.86 291.10,179.84 292.76,179.82 294.41,179.79 296.06,179.77 297.72,179.75 299.37,179.73 301.02,179.71 302.68,179.69 304.33,179.67 305.98,179.65 307.64,179.63 309.29,179.61 310.94,179.59 312.60,179.57 314.25,179.55 315.90,179.53 317.56,179.51 319.21,179.49 320.86,179.47 322.52,179.46 324.17,179.44 325.82,179.42 327.48,179.40 329.13,179.39 330.79,179.37 332.44,179.35 334.09,179.33 335.75,179.32 337.40,179.30 339.05,179.28 340.71,179.27 342.36,179.25 344.01,179.24 345.67,179.22 347.32,179.20 348.97,179.19 350.63,179.17 352.28,179.16 353.93,179.14 355.59,179.13 357.24,179.11 358.89,179.10 360.55,179.08 362.20,179.06" stroke="#e619e6"/>
</g>
<text transform="translate(212.40,298.65) scale(1.0,1)" class="tk" font-size="10.4" fill="#303030" text-anchor="end">-1</text>
<text transform="translate(212.40,267.99) scale(1.0,1)" class="tk" font-size="10.4" fill="#303030" text-anchor="end">-0.5</text>
<text transform="translate(212.40,237.33) scale(1.0,1)" class="tk" font-size="10.4" fill="#303030" text-anchor="end">0</text>
<text transform="translate(212.40,206.66) scale(1.0,1)" class="tk" font-size="10.4" fill="#303030" text-anchor="end">0.5</text>
<text transform="translate(212.40,176.00) scale(1.0,1)" class="tk" font-size="10.4" fill="#303030" text-anchor="end">1</text>
<text transform="translate(216.70,309.25) scale(1.0,1)" class="tk" font-size="10.4" fill="#303030" text-anchor="middle">2</text>
<text transform="translate(243.15,309.25) scale(1.0,1)" class="tk" font-size="10.4" fill="#303030" text-anchor="middle">6</text>
<text transform="translate(269.61,309.25) scale(1.0,1)" class="tk" font-size="10.4" fill="#303030" text-anchor="middle">10</text>
<text transform="translate(296.06,309.25) scale(1.0,1)" class="tk" font-size="10.4" fill="#303030" text-anchor="middle">14</text>
<text transform="translate(322.52,309.25) scale(1.0,1)" class="tk" font-size="10.4" fill="#303030" text-anchor="middle">18</text>
<text transform="translate(348.97,309.25) scale(1.0,1)" class="tk" font-size="10.4" fill="#303030" text-anchor="middle">22</text>
<text x="289.45" y="167.30" class="tt" font-size="11.5" fill="#1a1a1a" text-anchor="middle">(e) GRA</text>
<rect x="396.00" y="171.10" width="145.50" height="122.65" fill="none" stroke="#a3a3a3" stroke-width="1"/>
<path d="M396.00,293.75v-1.5M396.00,171.10v1.5M422.45,293.75v-1.5M422.45,171.10v1.5M448.91,293.75v-1.5M448.91,171.10v1.5M475.36,293.75v-1.5M475.36,171.10v1.5M501.82,293.75v-1.5M501.82,171.10v1.5M528.27,293.75v-1.5M528.27,171.10v1.5M396.00,293.75h1.5M541.50,293.75h-1.5M396.00,263.09h1.5M541.50,263.09h-1.5M396.00,232.43h1.5M541.50,232.43h-1.5M396.00,201.76h1.5M541.50,201.76h-1.5M396.00,171.10h1.5M541.50,171.10h-1.5" stroke="#a3a3a3" stroke-width="1" fill="none"/>
<g clip-path="url(#cp5)" fill="none" stroke-width="2.2" stroke-linejoin="round" stroke-linecap="round">
<polyline points="396.00,275.55 402.61,260.42 409.23,256.64 415.84,252.27 422.45,250.24 429.07,249.36 435.68,249.07 442.30,249.07 448.91,249.95 455.52,249.36 462.14,250.24 468.75,249.95 475.36,250.24 481.98,250.24 488.59,249.95 495.20,249.65 501.82,251.40 508.43,250.53 515.05,250.24 521.66,250.24 528.27,250.82 534.89,250.53 541.50,251.40" stroke="#111111"/>
<polyline points="396.00,220.70 397.65,219.20 399.31,218.05 400.96,217.12 402.61,216.35 404.27,215.70 405.92,215.14 407.57,214.66 409.23,214.23 410.88,213.85 412.53,213.51 414.19,213.21 415.84,212.94 417.49,212.69 419.15,212.47 420.80,212.26 422.45,212.07 424.11,211.90 425.76,211.75 427.41,211.60 429.07,211.47 430.72,211.35 432.38,211.23 434.03,211.13 435.68,211.03 437.34,210.94 438.99,210.86 440.64,210.79 442.30,210.72 443.95,210.66 445.60,210.60 447.26,210.54 448.91,210.49 450.56,210.45 452.22,210.41 453.87,210.37 455.52,210.34 457.18,210.31 458.83,210.29 460.48,210.26 462.14,210.24 463.79,210.22 465.44,210.21 467.10,210.20 468.75,210.19 470.40,210.18 472.06,210.17 473.71,210.17 475.36,210.17 477.02,210.17 478.67,210.17 480.32,210.18 481.98,210.18 483.63,210.19 485.28,210.20 486.94,210.21 488.59,210.22 490.24,210.24 491.90,210.25 493.55,210.27 495.20,210.28 496.86,210.30 498.51,210.32 500.16,210.34 501.82,210.37 503.47,210.39 505.12,210.41 506.78,210.44 508.43,210.46 510.09,210.49 511.74,210.52 513.39,210.55 515.05,210.58 516.70,210.61 518.35,210.64 520.01,210.67 521.66,210.70 523.31,210.74 524.97,210.77 526.62,210.81 528.27,210.84 529.93,210.88 531.58,210.92 533.23,210.95 534.89,210.99 536.54,211.03 538.19,211.07 539.85,211.11 541.50,211.15" stroke="#27e827"/>
<polyline points="396.00,199.40 397.65,198.46 399.31,197.73 400.96,197.15 402.61,196.66 404.27,196.25 405.92,195.89 407.57,195.58 409.23,195.30 410.88,195.05 412.53,194.83 414.19,194.63 415.84,194.44 417.49,194.27 419.15,194.12 420.80,193.97 422.45,193.84 424.11,193.71 425.76,193.60 427.41,193.49 429.07,193.39 430.72,193.29 432.38,193.20 434.03,193.11 435.68,193.03 437.34,192.96 438.99,192.89 440.64,192.82 442.30,192.75 443.95,192.69 445.60,192.63 447.26,192.58 448.91,192.52 450.56,192.47 452.22,192.43 453.87,192.38 455.52,192.34 457.18,192.29 458.83,192.25 460.48,192.22 462.14,192.18 463.79,192.14 465.44,192.11 467.10,192.08 468.75,192.05 470.40,192.02 472.06,191.99 473.71,191.96 475.36,191.94 477.02,191.91 478.67,191.89 480.32,191.87 481.98,191.85 483.63,191.82 485.28,191.80 486.94,191.79 488.59,191.77 490.24,191.75 491.90,191.73 493.55,191.72 495.20,191.70 496.86,191.69 498.51,191.67 500.16,191.66 501.82,191.65 503.47,191.64 505.12,191.62 506.78,191.61 508.43,191.60 510.09,191.59 511.74,191.58 513.39,191.58 515.05,191.57 516.70,191.56 518.35,191.55 520.01,191.55 521.66,191.54 523.31,191.53 524.97,191.53 526.62,191.52 528.27,191.52 529.93,191.51 531.58,191.51 533.23,191.50 534.89,191.50 536.54,191.50 538.19,191.50 539.85,191.49 541.50,191.49" stroke="#d41c1c"/>
<polyline points="396.00,189.58 397.65,188.74 399.31,188.12 400.96,187.63 402.61,187.23 404.27,186.89 405.92,186.60 407.57,186.35 409.23,186.13 410.88,185.94 412.53,185.77 414.19,185.61 415.84,185.47 417.49,185.34 419.15,185.22 420.80,185.11 422.45,185.01 424.11,184.91 425.76,184.82 427.41,184.74 429.07,184.66 430.72,184.59 432.38,184.52 434.03,184.46 435.68,184.40 437.34,184.34 438.99,184.28 440.64,184.23 442.30,184.18 443.95,184.13 445.60,184.09 447.26,184.05 448.91,184.00 450.56,183.96 452.22,183.93 453.87,183.89 455.52,183.86 457.18,183.82 458.83,183.79 460.48,183.76 462.14,183.73 463.79,183.70 465.44,183.67 467.10,183.64 468.75,183.62 470.40,183.59 472.06,183.57 473.71,183.55 475.36,183.52 477.02,183.50 478.67,183.48 480.32,183.46 481.98,183.44 483.63,183.42 485.28,183.40 486.94,183.38 488.59,183.36 490.24,183.35 491.90,183.33 493.55,183.31 495.20,183.30 496.86,183.28 498.51,183.27 500.16,183.25 501.82,183.24 503.47,183.23 505.12,183.21 506.78,183.20 508.43,183.19 510.09,183.17 511.74,183.16 513.39,183.15 515.05,183.14 516.70,183.13 518.35,183.12 520.01,183.11 521.66,183.10 523.31,183.09 524.97,183.08 526.62,183.07 528.27,183.06 529.93,183.05 531.58,183.04 533.23,183.03 534.89,183.02 536.54,183.02 538.19,183.01 539.85,183.00 541.50,182.99" stroke="#1414d2"/>
<polyline points="396.00,184.01 397.65,183.38 399.31,182.93 400.96,182.58 402.61,182.31 404.27,182.08 405.92,181.89 407.57,181.73 409.23,181.59 410.88,181.47 412.53,181.36 414.19,181.26 415.84,181.17 417.49,181.09 419.15,181.01 420.80,180.94 422.45,180.87 424.11,180.81 425.76,180.76 427.41,180.70 429.07,180.65 430.72,180.60 432.38,180.56 434.03,180.51 435.68,180.47 437.34,180.43 438.99,180.39 440.64,180.36 442.30,180.32 443.95,180.29 445.60,180.25 447.26,180.22 448.91,180.19 450.56,180.16 452.22,180.13 453.87,180.10 455.52,180.07 457.18,180.05 458.83,180.02 460.48,179.99 462.14,179.97 463.79,179.94 465.44,179.92 467.10,179.89 468.75,179.87 470.40,179.85 472.06,179.82 473.71,179.80 475.36,179.78 477.02,179.76 478.67,179.73 480.32,179.71 481.98,179.69 483.63,179.67 485.28,179.65 486.94,179.63 488.59,179.61 490.24,179.59 491.90,179.57 493.55,179.55 495.20,179.53 496.86,179.52 498.51,179.50 500.16,179.48 501.82,179.46 503.47,179.44 505.12,179.42 506.78,179.41 508.43,179.39 510.09,179.37 511.74,179.35 513.39,179.34 515.05,179.32 516.70,179.30 518.35,179.28 520.01,179.27 521.66,179.25 523.31,179.23 524.97,179.22 526.62,179.20 528.27,179.19 529.93,179.17 531.58,179.15 533.23,179.14 534.89,179.12 536.54,179.11 538.19,179.09 539.85,179.07 541.50,179.06" stroke="#e619e6"/>
</g>
<text transform="translate(391.70,298.65) scale(1.0,1)" class="tk" font-size="10.4" fill="#303030" text-anchor="end">-1</text>
<text transform="translate(391.70,267.99) scale(1.0,1)" class="tk" font-size="10.4" fill="#303030" text-anchor="end">-0.5</text>
<text transform="translate(391.70,237.33) scale(1.0,1)" class="tk" font-size="10.4" fill="#303030" text-anchor="end">0</text>
<text transform="translate(391.70,206.66) scale(1.0,1)" class="tk" font-size="10.4" fill="#303030" text-anchor="end">0.5</text>
<text transform="translate(391.70,176.00) scale(1.0,1)" class="tk" font-size="10.4" fill="#303030" text-anchor="end">1</text>
<text transform="translate(396.00,309.25) scale(1.0,1)" class="tk" font-size="10.4" fill="#303030" text-anchor="middle">2</text>
<text transform="translate(422.45,309.25) scale(1.0,1)" class="tk" font-size="10.4" fill="#303030" text-anchor="middle">6</text>
<text transform="translate(448.91,309.25) scale(1.0,1)" class="tk" font-size="10.4" fill="#303030" text-anchor="middle">10</text>
<text transform="translate(475.36,309.25) scale(1.0,1)" class="tk" font-size="10.4" fill="#303030" text-anchor="middle">14</text>
<text transform="translate(501.82,309.25) scale(1.0,1)" class="tk" font-size="10.4" fill="#303030" text-anchor="middle">18</text>
<text transform="translate(528.27,309.25) scale(1.0,1)" class="tk" font-size="10.4" fill="#303030" text-anchor="middle">22</text>
<text x="468.75" y="167.30" class="tt" font-size="11.5" fill="#1a1a1a" text-anchor="middle">(f) GRB</text>
<rect x="38.00" y="325.65" width="145.50" height="122.65" fill="none" stroke="#a3a3a3" stroke-width="1"/>
<path d="M38.00,448.30v-1.5M38.00,325.65v1.5M64.45,448.30v-1.5M64.45,325.65v1.5M90.91,448.30v-1.5M90.91,325.65v1.5M117.36,448.30v-1.5M117.36,325.65v1.5M143.82,448.30v-1.5M143.82,325.65v1.5M170.27,448.30v-1.5M170.27,325.65v1.5M38.00,448.30h1.5M183.50,448.30h-1.5M38.00,417.64h1.5M183.50,417.64h-1.5M38.00,386.97h1.5M183.50,386.97h-1.5M38.00,356.31h1.5M183.50,356.31h-1.5M38.00,325.65h1.5M183.50,325.65h-1.5" stroke="#a3a3a3" stroke-width="1" fill="none"/>
<g clip-path="url(#cp6)" fill="none" stroke-width="2.2" stroke-linejoin="round" stroke-linecap="round">
<polyline points="38.00,410.47 44.61,405.24 51.23,401.45 57.84,401.16 64.45,399.71 71.07,399.13 77.68,398.25 84.30,399.71 90.91,398.84 97.52,400.87 104.14,401.75 110.75,400.29 117.36,401.16 123.98,401.45 130.59,402.04 137.20,402.62 143.82,403.20 150.43,403.49 157.05,403.49 163.66,402.33 170.27,404.36 176.89,404.36 183.50,406.40" stroke="#111111"/>
<polyline points="38.00,373.16 39.65,371.83 41.31,370.82 42.96,370.02 44.61,369.37 46.27,368.82 47.92,368.36 49.57,367.96 51.23,367.62 52.88,367.31 54.53,367.04 56.19,366.80 57.84,366.59 59.49,366.40 61.15,366.22 62.80,366.07 64.45,365.93 66.11,365.80 67.76,365.68 69.41,365.57 71.07,365.47 72.72,365.39 74.38,365.30 76.03,365.23 77.68,365.16 79.34,365.10 80.99,365.04 82.64,364.99 84.30,364.95 85.95,364.91 87.60,364.87 89.26,364.83 90.91,364.80 92.56,364.78 94.22,364.75 95.87,364.73 97.52,364.71 99.18,364.70 100.83,364.69 102.48,364.68 104.14,364.67 105.79,364.66 107.44,364.66 109.10,364.65 110.75,364.65 112.40,364.66 114.06,364.66 115.71,364.66 117.36,364.67 119.02,364.68 120.67,364.69 122.32,364.70 123.98,364.71 125.63,364.72 127.28,364.73 128.94,364.75 130.59,364.76 132.24,364.78 133.90,364.80 135.55,364.82 137.20,364.84 138.86,364.86 140.51,364.88 142.16,364.90 143.82,364.93 145.47,364.95 147.12,364.98 148.78,365.00 150.43,365.03 152.09,365.06 153.74,365.08 155.39,365.11 157.05,365.14 158.70,365.17 160.35,365.20 162.01,365.23 163.66,365.26 165.31,365.29 166.97,365.33 168.62,365.36 170.27,365.39 171.93,365.43 173.58,365.46 175.23,365.50 176.89,365.53 178.54,365.57 180.19,365.60 181.85,365.64 183.50,365.68" stroke="#27e827"/>
<polyline points="38.00,353.27 39.65,352.26 41.31,351.51 42.96,350.93 44.61,350.46 46.27,350.08 47.92,349.75 49.57,349.47 51.23,349.23 52.88,349.01 54.53,348.82 56.19,348.65 57.84,348.49 59.49,348.35 61.15,348.22 62.80,348.10 64.45,348.00 66.11,347.89 67.76,347.80 69.41,347.71 71.07,347.63 72.72,347.55 74.38,347.48 76.03,347.41 77.68,347.35 79.34,347.29 80.99,347.23 82.64,347.18 84.30,347.12 85.95,347.08 87.60,347.03 89.26,346.98 90.91,346.94 92.56,346.90 94.22,346.86 95.87,346.82 97.52,346.79 99.18,346.75 100.83,346.72 102.48,346.68 104.14,346.65 105.79,346.62 107.44,346.60 109.10,346.57 110.75,346.54 112.40,346.51 114.06,346.49 115.71,346.46 117.36,346.44 119.02,346.42 120.67,346.40 122.32,346.37 123.98,346.35 125.63,346.33 127.28,346.31 128.94,346.30 130.59,346.28 132.24,346.26 133.90,346.24 135.55,346.22 137.20,346.21 138.86,346.19 140.51,346.18 142.16,346.16 143.82,346.15 145.47,346.13 147.12,346.12 148.78,346.10 150.43,346.09 152.09,346.08 153.74,346.06 155.39,346.05 157.05,346.04 158.70,346.03 160.35,346.02 162.01,346.00 163.66,345.99 165.31,345.98 166.97,345.97 168.62,345.96 170.27,345.95 171.93,345.94 173.58,345.93 175.23,345.92 176.89,345.91 178.54,345.90 180.19,345.90 181.85,345.89 183.50,345.88" stroke="#d41c1c"/>
<polyline points="38.00,343.85 39.65,343.08 41.31,342.49 42.96,342.03 44.61,341.65 46.27,341.33 47.92,341.05 49.57,340.82 51.23,340.61 52.88,340.42 54.53,340.25 56.19,340.10 57.84,339.96 59.49,339.83 61.15,339.71 62.80,339.61 64.45,339.51 66.11,339.41 67.76,339.32 69.41,339.24 71.07,339.16 72.72,339.09 74.38,339.02 76.03,338.95 77.68,338.89 79.34,338.83 80.99,338.78 82.64,338.72 84.30,338.67 85.95,338.62 87.60,338.57 89.26,338.53 90.91,338.48 92.56,338.44 94.22,338.40 95.87,338.36 97.52,338.32 99.18,338.29 100.83,338.25 102.48,338.22 104.14,338.19 105.79,338.15 107.44,338.12 109.10,338.09 110.75,338.06 112.40,338.04 114.06,338.01 115.71,337.98 117.36,337.96 119.02,337.93 120.67,337.91 122.32,337.88 123.98,337.86 125.63,337.84 127.28,337.81 128.94,337.79 130.59,337.77 132.24,337.75 133.90,337.73 135.55,337.71 137.20,337.69 138.86,337.67 140.51,337.65 142.16,337.64 143.82,337.62 145.47,337.60 147.12,337.58 148.78,337.57 150.43,337.55 152.09,337.54 153.74,337.52 155.39,337.50 157.05,337.49 158.70,337.48 160.35,337.46 162.01,337.45 163.66,337.43 165.31,337.42 166.97,337.41 168.62,337.39 170.27,337.38 171.93,337.37 173.58,337.35 175.23,337.34 176.89,337.33 178.54,337.32 180.19,337.31 181.85,337.29 183.50,337.28" stroke="#1414d2"/>
<polyline points="38.00,338.43 39.65,337.85 41.31,337.41 42.96,337.07 44.61,336.78 46.27,336.55 47.92,336.35 49.57,336.18 51.23,336.03 52.88,335.89 54.53,335.77 56.19,335.66 57.84,335.57 59.49,335.48 61.15,335.39 62.80,335.32 64.45,335.25 66.11,335.18 67.76,335.12 69.41,335.07 71.07,335.01 72.72,334.97 74.38,334.92 76.03,334.88 77.68,334.83 79.34,334.80 80.99,334.76 82.64,334.72 84.30,334.69 85.95,334.66 87.60,334.63 89.26,334.60 90.91,334.57 92.56,334.55 94.22,334.52 95.87,334.50 97.52,334.48 99.18,334.45 100.83,334.43 102.48,334.41 104.14,334.39 105.79,334.37 107.44,334.36 109.10,334.34 110.75,334.32 112.40,334.31 114.06,334.29 115.71,334.28 117.36,334.26 119.02,334.25 120.67,334.24 122.32,334.22 123.98,334.21 125.63,334.20 127.28,334.19 128.94,334.18 130.59,334.17 132.24,334.16 133.90,334.15 135.55,334.14 137.20,334.13 138.86,334.12 140.51,334.11 142.16,334.10 143.82,334.09 145.47,334.08 147.12,334.08 148.78,334.07 150.43,334.06 152.09,334.06 153.74,334.05 155.39,334.04 157.05,334.04 158.70,334.03 160.35,334.02 162.01,334.02 163.66,334.01 165.31,334.01 166.97,334.00 168.62,334.00 170.27,333.99 171.93,333.99 173.58,333.98 175.23,333.98 176.89,333.98 178.54,333.97 180.19,333.97 181.85,333.96 183.50,333.96" stroke="#e619e6"/>
</g>
<text transform="translate(33.70,453.20) scale(1.0,1)" class="tk" font-size="10.4" fill="#303030" text-anchor="end">-1</text>
<text transform="translate(33.70,422.54) scale(1.0,1)" class="tk" font-size="10.4" fill="#303030" text-anchor="end">-0.5</text>
<text transform="translate(33.70,391.87) scale(1.0,1)" class="tk" font-size="10.4" fill="#303030" text-anchor="end">0</text>
<text transform="translate(33.70,361.21) scale(1.0,1)" class="tk" font-size="10.4" fill="#303030" text-anchor="end">0.5</text>
<text transform="translate(33.70,330.55) scale(1.0,1)" class="tk" font-size="10.4" fill="#303030" text-anchor="end">1</text>
<text transform="translate(38.00,463.80) scale(1.0,1)" class="tk" font-size="10.4" fill="#303030" text-anchor="middle">2</text>
<text transform="translate(64.45,463.80) scale(1.0,1)" class="tk" font-size="10.4" fill="#303030" text-anchor="middle">6</text>
<text transform="translate(90.91,463.80) scale(1.0,1)" class="tk" font-size="10.4" fill="#303030" text-anchor="middle">10</text>
<text transform="translate(117.36,463.80) scale(1.0,1)" class="tk" font-size="10.4" fill="#303030" text-anchor="middle">14</text>
<text transform="translate(143.82,463.80) scale(1.0,1)" class="tk" font-size="10.4" fill="#303030" text-anchor="middle">18</text>
<text transform="translate(170.27,463.80) scale(1.0,1)" class="tk" font-size="10.4" fill="#303030" text-anchor="middle">22</text>
<text x="110.75" y="321.85" class="tt" font-size="11.5" fill="#1a1a1a" text-anchor="middle">(g) GRC</text>
<rect x="216.70" y="325.65" width="145.50" height="122.65" fill="none" stroke="#a3a3a3" stroke-width="1"/>
<path d="M216.70,448.30v-1.5M216.70,325.65v1.5M243.15,448.30v-1.5M243.15,325.65v1.5M269.61,448.30v-1.5M269.61,325.65v1.5M296.06,448.30v-1.5M296.06,325.65v1.5M322.52,448.30v-1.5M322.52,325.65v1.5M348.97,448.30v-1.5M348.97,325.65v1.5M216.70,448.30h1.5M362.20,448.30h-1.5M216.70,417.64h1.5M362.20,417.64h-1.5M216.70,386.97h1.5M362.20,386.97h-1.5M216.70,356.31h1.5M362.20,356.31h-1.5M216.70,325.65h1.5M362.20,325.65h-1.5" stroke="#a3a3a3" stroke-width="1" fill="none"/>
<g clip-path="url(#cp7)" fill="none" stroke-width="2.2" stroke-linejoin="round" stroke-linecap="round">
<polyline points="216.70,434.91 223.31,418.91 229.93,413.67 236.54,408.15 243.15,404.95 249.77,402.33 256.38,401.75 263.00,401.16 269.61,399.13 276.22,397.96 282.84,397.38 289.45,396.80 296.06,395.35 302.68,395.35 309.29,394.76 315.90,394.18 322.52,392.73 329.13,392.44 335.75,392.15 342.36,390.98 348.97,390.69 355.59,390.40 362.20,389.24" stroke="#111111"/>
<polyline points="216.70,376.57 218.35,375.22 220.01,374.16 221.66,373.29 223.31,372.56 224.97,371.92 226.62,371.36 228.27,370.87 229.93,370.42 231.58,370.02 233.23,369.65 234.89,369.30 236.54,368.99 238.19,368.69 239.85,368.41 241.50,368.15 243.15,367.91 244.81,367.68 246.46,367.46 248.11,367.25 249.77,367.05 251.42,366.86 253.07,366.68 254.73,366.50 256.38,366.33 258.04,366.17 259.69,366.02 261.34,365.86 263.00,365.72 264.65,365.58 266.30,365.44 267.96,365.31 269.61,365.18 271.26,365.06 272.92,364.94 274.57,364.82 276.22,364.70 277.88,364.59 279.53,364.48 281.18,364.37 282.84,364.27 284.49,364.17 286.14,364.07 287.80,363.97 289.45,363.88 291.10,363.78 292.76,363.69 294.41,363.60 296.06,363.51 297.72,363.42 299.37,363.34 301.02,363.25 302.68,363.17 304.33,363.09 305.98,363.01 307.64,362.93 309.29,362.86 310.94,362.78 312.60,362.71 314.25,362.63 315.90,362.56 317.56,362.49 319.21,362.42 320.86,362.35 322.52,362.28 324.17,362.21 325.82,362.14 327.48,362.08 329.13,362.01 330.79,361.95 332.44,361.88 334.09,361.82 335.75,361.76 337.40,361.70 339.05,361.64 340.71,361.58 342.36,361.52 344.01,361.46 345.67,361.40 347.32,361.34 348.97,361.28 350.63,361.23 352.28,361.17 353.93,361.11 355.59,361.06 357.24,361.01 358.89,360.95 360.55,360.90 362.20,360.84" stroke="#27e827"/>
<polyline points="216.70,355.12 218.35,354.13 220.01,353.39 221.66,352.81 223.31,352.33 224.97,351.93 226.62,351.58 228.27,351.28 229.93,351.02 231.58,350.78 233.23,350.57 234.89,350.38 236.54,350.20 238.19,350.04 239.85,349.89 241.50,349.75 243.15,349.62 244.81,349.49 246.46,349.38 248.11,349.27 249.77,349.17 251.42,349.07 253.07,348.98 254.73,348.89 256.38,348.80 258.04,348.72 259.69,348.64 261.34,348.57 263.00,348.50 264.65,348.43 266.30,348.36 267.96,348.29 269.61,348.23 271.26,348.17 272.92,348.11 274.57,348.05 276.22,348.00 277.88,347.94 279.53,347.89 281.18,347.84 282.84,347.79 284.49,347.74 286.14,347.69 287.80,347.64 289.45,347.60 291.10,347.55 292.76,347.51 294.41,347.47 296.06,347.42 297.72,347.38 299.37,347.34 301.02,347.30 302.68,347.26 304.33,347.22 305.98,347.18 307.64,347.15 309.29,347.11 310.94,347.07 312.60,347.04 314.25,347.00 315.90,346.97 317.56,346.93 319.21,346.90 320.86,346.87 322.52,346.83 324.17,346.80 325.82,346.77 327.48,346.74 329.13,346.70 330.79,346.67 332.44,346.64 334.09,346.61 335.75,346.58 337.40,346.55 339.05,346.52 340.71,346.49 342.36,346.46 344.01,346.44 345.67,346.41 347.32,346.38 348.97,346.35 350.63,346.32 352.28,346.30 353.93,346.27 355.59,346.24 357.24,346.22 358.89,346.19 360.55,346.16 362.20,346.14" stroke="#d41c1c"/>
<polyline points="216.70,345.05 218.35,344.21 220.01,343.61 221.66,343.15 223.31,342.79 224.97,342.49 226.62,342.24 228.27,342.03 229.93,341.84 231.58,341.68 233.23,341.53 234.89,341.40 236.54,341.28 238.19,341.17 239.85,341.07 241.50,340.97 243.15,340.89 244.81,340.80 246.46,340.73 248.11,340.66 249.77,340.59 251.42,340.52 253.07,340.46 254.73,340.40 256.38,340.34 258.04,340.29 259.69,340.24 261.34,340.18 263.00,340.14 264.65,340.09 266.30,340.04 267.96,340.00 269.61,339.95 271.26,339.91 272.92,339.87 274.57,339.83 276.22,339.79 277.88,339.75 279.53,339.72 281.18,339.68 282.84,339.64 284.49,339.61 286.14,339.57 287.80,339.54 289.45,339.51 291.10,339.47 292.76,339.44 294.41,339.41 296.06,339.38 297.72,339.34 299.37,339.31 301.02,339.28 302.68,339.25 304.33,339.22 305.98,339.19 307.64,339.17 309.29,339.14 310.94,339.11 312.60,339.08 314.25,339.05 315.90,339.03 317.56,339.00 319.21,338.97 320.86,338.94 322.52,338.92 324.17,338.89 325.82,338.86 327.48,338.84 329.13,338.81 330.79,338.79 332.44,338.76 334.09,338.74 335.75,338.71 337.40,338.69 339.05,338.66 340.71,338.64 342.36,338.61 344.01,338.59 345.67,338.56 347.32,338.54 348.97,338.51 350.63,338.49 352.28,338.47 353.93,338.44 355.59,338.42 357.24,338.40 358.89,338.37 360.55,338.35 362.20,338.33" stroke="#1414d2"/>
<polyline points="216.70,339.28 218.35,338.60 220.01,338.14 221.66,337.81 223.31,337.55 224.97,337.34 226.62,337.18 228.27,337.03 229.93,336.91 231.58,336.81 233.23,336.71 234.89,336.63 236.54,336.55 238.19,336.48 239.85,336.42 241.50,336.36 243.15,336.30 244.81,336.25 246.46,336.20 248.11,336.16 249.77,336.11 251.42,336.07 253.07,336.03 254.73,335.99 256.38,335.95 258.04,335.91 259.69,335.88 261.34,335.84 263.00,335.81 264.65,335.78 266.30,335.75 267.96,335.71 269.61,335.68 271.26,335.65 272.92,335.62 274.57,335.60 276.22,335.57 277.88,335.54 279.53,335.51 281.18,335.48 282.84,335.46 284.49,335.43 286.14,335.40 287.80,335.38 289.45,335.35 291.10,335.33 292.76,335.30 294.41,335.28 296.06,335.25 297.72,335.23 299.37,335.20 301.02,335.18 302.68,335.15 304.33,335.13 305.98,335.10 307.64,335.08 309.29,335.06 310.94,335.03 312.60,335.01 314.25,334.99 315.90,334.96 317.56,334.94 319.21,334.92 320.86,334.90 322.52,334.87 324.17,334.85 325.82,334.83 327.48,334.80 329.13,334.78 330.79,334.76 332.44,334.74 334.09,334.72 335.75,334.69 337.40,334.67 339.05,334.65 340.71,334.63 342.36,334.60 344.01,334.58 345.67,334.56 347.32,334.54 348.97,334.52 350.63,334.50 352.28,334.47 353.93,334.45 355.59,334.43 357.24,334.41 358.89,334.39 360.55,334.37 362.20,334.35" stroke="#e619e6"/>
</g>
<text transform="translate(212.40,453.20) scale(1.0,1)" class="tk" font-size="10.4" fill="#303030" text-anchor="end">-1</text>
<text transform="translate(212.40,422.54) scale(1.0,1)" class="tk" font-size="10.4" fill="#303030" text-anchor="end">-0.5</text>
<text transform="translate(212.40,391.87) scale(1.0,1)" class="tk" font-size="10.4" fill="#303030" text-anchor="end">0</text>
<text transform="translate(212.40,361.21) scale(1.0,1)" class="tk" font-size="10.4" fill="#303030" text-anchor="end">0.5</text>
<text transform="translate(212.40,330.55) scale(1.0,1)" class="tk" font-size="10.4" fill="#303030" text-anchor="end">1</text>
<text transform="translate(216.70,463.80) scale(1.0,1)" class="tk" font-size="10.4" fill="#303030" text-anchor="middle">2</text>
<text transform="translate(243.15,463.80) scale(1.0,1)" class="tk" font-size="10.4" fill="#303030" text-anchor="middle">6</text>
<text transform="translate(269.61,463.80) scale(1.0,1)" class="tk" font-size="10.4" fill="#303030" text-anchor="middle">10</text>
<text transform="translate(296.06,463.80) scale(1.0,1)" class="tk" font-size="10.4" fill="#303030" text-anchor="middle">14</text>
<text transform="translate(322.52,463.80) scale(1.0,1)" class="tk" font-size="10.4" fill="#303030" text-anchor="middle">18</text>
<text transform="translate(348.97,463.80) scale(1.0,1)" class="tk" font-size="10.4" fill="#303030" text-anchor="middle">22</text>
<text x="289.45" y="321.85" class="tt" font-size="11.5" fill="#1a1a1a" text-anchor="middle">(h) BMA</text>
<rect x="396.00" y="325.65" width="145.50" height="122.65" fill="none" stroke="#a3a3a3" stroke-width="1"/>
<path d="M396.00,448.30v-1.5M396.00,325.65v1.5M422.45,448.30v-1.5M422.45,325.65v1.5M448.91,448.30v-1.5M448.91,325.65v1.5M475.36,448.30v-1.5M475.36,325.65v1.5M501.82,448.30v-1.5M501.82,325.65v1.5M528.27,448.30v-1.5M528.27,325.65v1.5M396.00,448.30h1.5M541.50,448.30h-1.5M396.00,417.64h1.5M541.50,417.64h-1.5M396.00,386.97h1.5M541.50,386.97h-1.5M396.00,356.31h1.5M541.50,356.31h-1.5M396.00,325.65h1.5M541.50,325.65h-1.5" stroke="#a3a3a3" stroke-width="1" fill="none"/>
<g clip-path="url(#cp8)" fill="none" stroke-width="2.2" stroke-linejoin="round" stroke-linecap="round">
<polyline points="396.00,391.85 402.61,389.24 409.23,388.07 415.84,387.49 422.45,387.20 429.07,386.91 435.68,386.91 442.30,386.91 448.91,387.20 455.52,386.91 462.14,386.91 468.75,386.91 475.36,387.20 481.98,387.20 488.59,387.49 495.20,387.49 501.82,387.78 508.43,388.65 515.05,388.36 521.66,388.95 528.27,388.65 534.89,388.36 541.50,388.07" stroke="#111111"/>
<polyline points="396.00,368.23 397.65,367.24 399.31,366.49 400.96,365.90 402.61,365.42 404.27,365.02 405.92,364.67 407.57,364.38 409.23,364.12 410.88,363.89 412.53,363.68 414.19,363.50 415.84,363.34 417.49,363.19 419.15,363.05 420.80,362.93 422.45,362.82 424.11,362.71 425.76,362.62 427.41,362.53 429.07,362.45 430.72,362.37 432.38,362.30 434.03,362.24 435.68,362.18 437.34,362.12 438.99,362.07 440.64,362.02 442.30,361.97 443.95,361.93 445.60,361.89 447.26,361.85 448.91,361.82 450.56,361.78 452.22,361.75 453.87,361.72 455.52,361.70 457.18,361.67 458.83,361.65 460.48,361.63 462.14,361.61 463.79,361.59 465.44,361.57 467.10,361.56 468.75,361.54 470.40,361.53 472.06,361.52 473.71,361.51 475.36,361.50 477.02,361.49 478.67,361.48 480.32,361.47 481.98,361.47 483.63,361.46 485.28,361.46 486.94,361.45 488.59,361.45 490.24,361.45 491.90,361.44 493.55,361.44 495.20,361.44 496.86,361.44 498.51,361.44 500.16,361.44 501.82,361.45 503.47,361.45 505.12,361.45 506.78,361.45 508.43,361.46 510.09,361.46 511.74,361.47 513.39,361.47 515.05,361.48 516.70,361.48 518.35,361.49 520.01,361.50 521.66,361.50 523.31,361.51 524.97,361.52 526.62,361.53 528.27,361.53 529.93,361.54 531.58,361.55 533.23,361.56 534.89,361.57 536.54,361.58 538.19,361.59 539.85,361.60 541.50,361.61" stroke="#27e827"/>
<polyline points="396.00,351.84 397.65,350.80 399.31,350.05 400.96,349.48 402.61,349.03 404.27,348.66 405.92,348.36 407.57,348.10 409.23,347.87 410.88,347.68 412.53,347.51 414.19,347.35 415.84,347.21 417.49,347.09 419.15,346.98 420.80,346.87 422.45,346.78 424.11,346.69 425.76,346.61 427.41,346.53 429.07,346.46 430.72,346.39 432.38,346.33 434.03,346.27 435.68,346.22 437.34,346.16 438.99,346.11 440.64,346.07 442.30,346.02 443.95,345.98 445.60,345.94 447.26,345.90 448.91,345.86 450.56,345.83 452.22,345.79 453.87,345.76 455.52,345.73 457.18,345.70 458.83,345.67 460.48,345.64 462.14,345.61 463.79,345.59 465.44,345.56 467.10,345.54 468.75,345.51 470.40,345.49 472.06,345.47 473.71,345.44 475.36,345.42 477.02,345.40 478.67,345.38 480.32,345.36 481.98,345.34 483.63,345.32 485.28,345.31 486.94,345.29 488.59,345.27 490.24,345.25 491.90,345.24 493.55,345.22 495.20,345.20 496.86,345.19 498.51,345.17 500.16,345.16 501.82,345.14 503.47,345.13 505.12,345.12 506.78,345.10 508.43,345.09 510.09,345.08 511.74,345.06 513.39,345.05 515.05,345.04 516.70,345.02 518.35,345.01 520.01,345.00 521.66,344.99 523.31,344.98 524.97,344.97 526.62,344.95 528.27,344.94 529.93,344.93 531.58,344.92 533.23,344.91 534.89,344.90 536.54,344.89 538.19,344.88 539.85,344.87 541.50,344.86" stroke="#d41c1c"/>
<polyline points="396.00,343.05 397.65,342.23 399.31,341.62 400.96,341.16 402.61,340.79 404.27,340.48 405.92,340.22 407.57,340.00 409.23,339.81 410.88,339.64 412.53,339.48 414.19,339.35 415.84,339.23 417.49,339.12 419.15,339.01 420.80,338.92 422.45,338.83 424.11,338.75 425.76,338.68 427.41,338.61 429.07,338.55 430.72,338.49 432.38,338.43 434.03,338.37 435.68,338.32 437.34,338.27 438.99,338.23 440.64,338.19 442.30,338.14 443.95,338.10 445.60,338.07 447.26,338.03 448.91,337.99 450.56,337.96 452.22,337.93 453.87,337.90 455.52,337.87 457.18,337.84 458.83,337.81 460.48,337.79 462.14,337.76 463.79,337.74 465.44,337.71 467.10,337.69 468.75,337.67 470.40,337.64 472.06,337.62 473.71,337.60 475.36,337.58 477.02,337.56 478.67,337.54 480.32,337.53 481.98,337.51 483.63,337.49 485.28,337.47 486.94,337.46 488.59,337.44 490.24,337.42 491.90,337.41 493.55,337.39 495.20,337.38 496.86,337.36 498.51,337.35 500.16,337.34 501.82,337.32 503.47,337.31 505.12,337.30 506.78,337.28 508.43,337.27 510.09,337.26 511.74,337.25 513.39,337.23 515.05,337.22 516.70,337.21 518.35,337.20 520.01,337.19 521.66,337.18 523.31,337.17 524.97,337.16 526.62,337.15 528.27,337.14 529.93,337.13 531.58,337.12 533.23,337.11 534.89,337.10 536.54,337.09 538.19,337.08 539.85,337.07 541.50,337.06" stroke="#1414d2"/>
<polyline points="396.00,338.08 397.65,337.49 399.31,337.06 400.96,336.72 402.61,336.45 404.27,336.23 405.92,336.04 407.57,335.88 409.23,335.74 410.88,335.61 412.53,335.50 414.19,335.40 415.84,335.31 417.49,335.23 419.15,335.15 420.80,335.08 422.45,335.02 424.11,334.96 425.76,334.90 427.41,334.85 429.07,334.80 430.72,334.76 432.38,334.71 434.03,334.67 435.68,334.64 437.34,334.60 438.99,334.56 440.64,334.53 442.30,334.50 443.95,334.47 445.60,334.44 447.26,334.41 448.91,334.39 450.56,334.36 452.22,334.34 453.87,334.31 455.52,334.29 457.18,334.27 458.83,334.25 460.48,334.23 462.14,334.21 463.79,334.19 465.44,334.17 467.10,334.15 468.75,334.13 470.40,334.12 472.06,334.10 473.71,334.08 475.36,334.07 477.02,334.05 478.67,334.04 480.32,334.02 481.98,334.01 483.63,334.00 485.28,333.98 486.94,333.97 488.59,333.96 490.24,333.94 491.90,333.93 493.55,333.92 495.20,333.91 496.86,333.90 498.51,333.89 500.16,333.88 501.82,333.86 503.47,333.85 505.12,333.84 506.78,333.83 508.43,333.82 510.09,333.81 511.74,333.80 513.39,333.79 515.05,333.79 516.70,333.78 518.35,333.77 520.01,333.76 521.66,333.75 523.31,333.74 524.97,333.73 526.62,333.72 528.27,333.72 529.93,333.71 531.58,333.70 533.23,333.69 534.89,333.69 536.54,333.68 538.19,333.67 539.85,333.66 541.50,333.66" stroke="#e619e6"/>
</g>
<text transform="translate(391.70,453.20) scale(1.0,1)" class="tk" font-size="10.4" fill="#303030" text-anchor="end">-1</text>
<text transform="translate(391.70,422.54) scale(1.0,1)" class="tk" font-size="10.4" fill="#303030" text-anchor="end">-0.5</text>
<text transform="translate(391.70,391.87) scale(1.0,1)" class="tk" font-size="10.4" fill="#303030" text-anchor="end">0</text>
<text transform="translate(391.70,361.21) scale(1.0,1)" class="tk" font-size="10.4" fill="#303030" text-anchor="end">0.5</text>
<text transform="translate(391.70,330.55) scale(1.0,1)" class="tk" font-size="10.4" fill="#303030" text-anchor="end">1</text>
<text transform="translate(396.00,463.80) scale(1.0,1)" class="tk" font-size="10.4" fill="#303030" text-anchor="middle">2</text>
<text transform="translate(422.45,463.80) scale(1.0,1)" class="tk" font-size="10.4" fill="#303030" text-anchor="middle">6</text>
<text transform="translate(448.91,463.80) scale(1.0,1)" class="tk" font-size="10.4" fill="#303030" text-anchor="middle">10</text>
<text transform="translate(475.36,463.80) scale(1.0,1)" class="tk" font-size="10.4" fill="#303030" text-anchor="middle">14</text>
<text transform="translate(501.82,463.80) scale(1.0,1)" class="tk" font-size="10.4" fill="#303030" text-anchor="middle">18</text>
<text transform="translate(528.27,463.80) scale(1.0,1)" class="tk" font-size="10.4" fill="#303030" text-anchor="middle">22</text>
<text x="468.75" y="321.85" class="tt" font-size="11.5" fill="#1a1a1a" text-anchor="middle">(i) MMSE</text>
<text transform="translate(14.0,251) rotate(-90)" font-size="12" font-weight="bold" fill="#000" text-anchor="middle">NSE</text>
<text x="302.8" y="479.1" font-size="12.2" font-weight="bold" fill="#000" text-anchor="middle">Number of members</text>
<line x1="6.50" y1="496" x2="32.20" y2="496" stroke="#111111" stroke-width="2.2"/>
<text x="35.30" y="501.4" class="tk" font-size="12.2" fill="#303030">10th quantiles</text>
<line x1="114.50" y1="496" x2="140.20" y2="496" stroke="#27e827" stroke-width="2.2"/>
<text x="143.30" y="501.4" class="tk" font-size="12.2" fill="#303030">25th quantiles</text>
<line x1="222.70" y1="496" x2="248.40" y2="496" stroke="#d41c1c" stroke-width="2.2"/>
<text x="251.50" y="501.4" class="tk" font-size="12.2" fill="#303030">50th quantiles</text>
<line x1="330.20" y1="496" x2="355.90" y2="496" stroke="#1414d2" stroke-width="2.2"/>
<text x="359.00" y="501.4" class="tk" font-size="12.2" fill="#303030">75th quantiles</text>
<line x1="438.00" y1="496" x2="463.70" y2="496" stroke="#e619e6" stroke-width="2.2"/>
<text x="466.80" y="501.4" class="tk" font-size="12.2" fill="#303030">90th quantiles</text>
</svg></body></html>
